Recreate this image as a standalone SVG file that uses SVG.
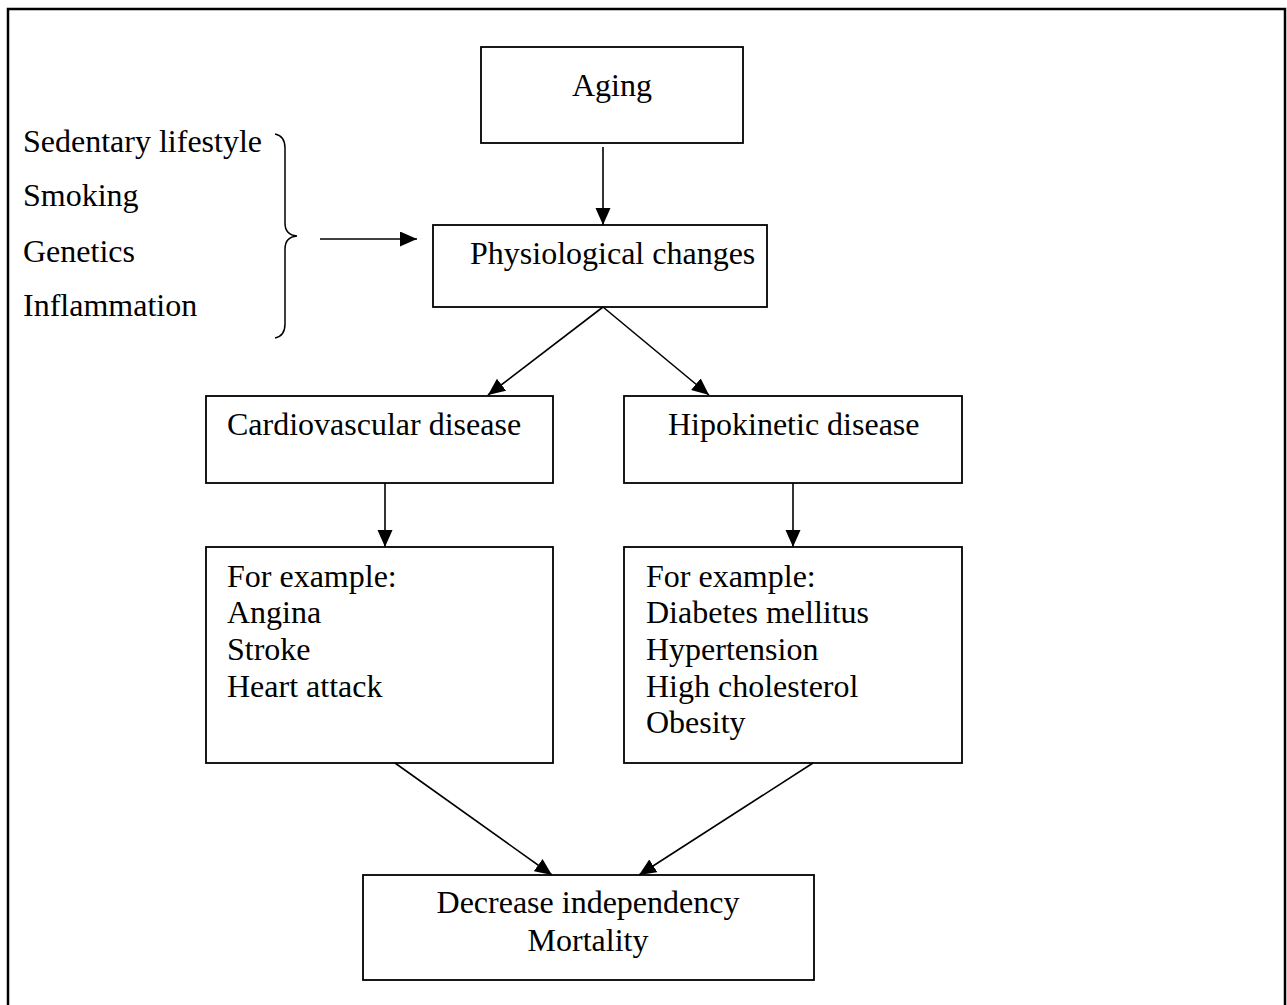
<svg xmlns="http://www.w3.org/2000/svg" width="1287" height="1005" viewBox="0 0 1287 1005">
<defs>
<style>
text{font-family:"Liberation Serif","Times New Roman",serif;font-size:32px;fill:#000}
.box{fill:#fff;stroke:#000;stroke-width:1.8}
.con{fill:none;stroke:#000;stroke-width:1.6}
</style>
<marker id="ah" markerUnits="userSpaceOnUse" markerWidth="18" markerHeight="16" refX="17" refY="7.5" orient="auto">
<path d="M0,0 L17,7.5 L0,15 z" fill="#000"/>
</marker>
</defs>
<rect width="1287" height="1005" fill="#fff"/>
<path d="M8,1005 L8,9 L1285,9 L1285,1005" fill="none" stroke="#000" stroke-width="2.5"/>

<g id="factors">
<text x="23" y="152">Sedentary lifestyle</text>
<text x="23" y="206">Smoking</text>
<text x="23" y="262">Genetics</text>
<text x="23" y="316">Inflammation</text>
<path d="M275,134 Q285,136 285,148 L285,223 Q285,235 297,236 Q285,237 285,249 L285,324 Q285,336 275,338" fill="none" stroke="#000" stroke-width="1.5"/>
</g>

<g id="aging">
<rect class="box" x="481" y="47" width="262" height="96"/>
<text x="572" y="96">Aging</text>
</g>
<g id="physiological">
<rect class="box" x="433" y="225" width="334" height="82"/>
<text x="470" y="264">Physiological changes</text>
</g>
<g id="cardio">
<rect class="box" x="206" y="396" width="347" height="87"/>
<text x="227" y="435">Cardiovascular disease</text>
</g>
<g id="hipo">
<rect class="box" x="624" y="396" width="338" height="87"/>
<text x="668" y="435">Hipokinetic disease</text>
</g>
<g id="cardio-examples">
<rect class="box" x="206" y="547" width="347" height="216"/>
<text x="227" y="587">For example:</text>
<text x="227" y="623">Angina</text>
<text x="227" y="660">Stroke</text>
<text x="227" y="697">Heart attack</text>
</g>
<g id="hipo-examples">
<rect class="box" x="624" y="547" width="338" height="216"/>
<text x="646" y="587">For example:</text>
<text x="646" y="623">Diabetes mellitus</text>
<text x="646" y="660">Hypertension</text>
<text x="646" y="697">High cholesterol</text>
<text x="646" y="733">Obesity</text>
</g>
<g id="outcome">
<rect class="box" x="363" y="875" width="451" height="105"/>
<text x="588" y="913" text-anchor="middle">Decrease independency</text>
<text x="588" y="951" text-anchor="middle">Mortality</text>
</g>

<g id="connectors">
<path class="con" d="M603,147 L603,225" marker-end="url(#ah)"/>
<path class="con" d="M320,239 L417,239" marker-end="url(#ah)"/>
<path class="con" d="M603,307 L488,395" marker-end="url(#ah)"/>
<path class="con" d="M603,307 L709,395" marker-end="url(#ah)"/>
<path class="con" d="M385,483 L385,547" marker-end="url(#ah)"/>
<path class="con" d="M793,483 L793,547" marker-end="url(#ah)"/>
<path class="con" d="M395,763 L552,875" marker-end="url(#ah)"/>
<path class="con" d="M813,763 L639,875" marker-end="url(#ah)"/>
</g>
</svg>
